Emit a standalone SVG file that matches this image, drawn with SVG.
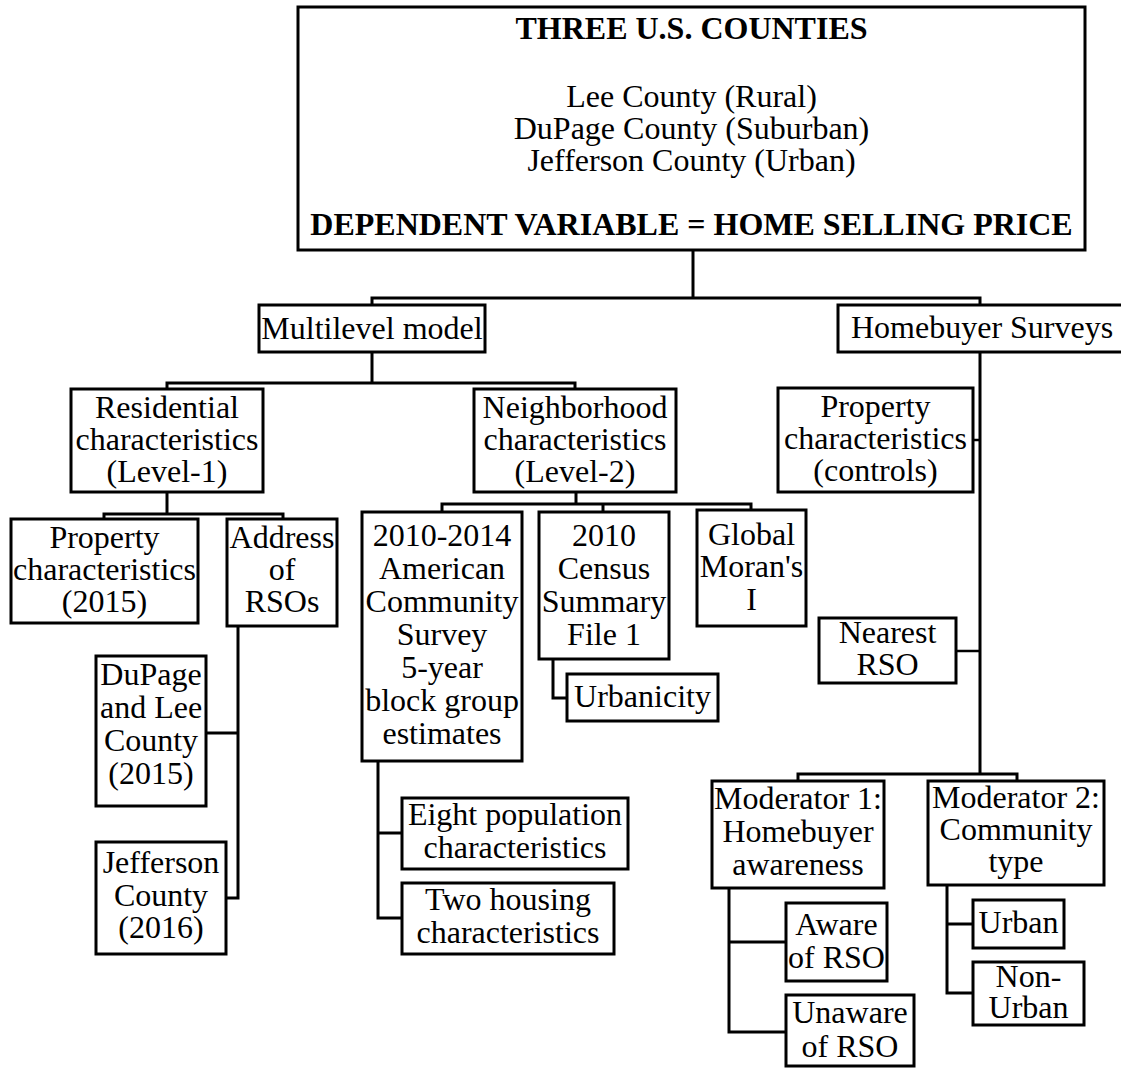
<svg xmlns="http://www.w3.org/2000/svg" width="1121" height="1068" viewBox="0 0 1121 1068">
<style>
.box{fill:#fff;stroke:#000;stroke-width:3}
.c{fill:none;stroke:#000;stroke-width:3}
.t{font-family:"Liberation Serif","Times New Roman",serif;font-size:32px;text-anchor:middle;fill:#000}
.b{font-weight:bold}
</style>
<rect width="1121" height="1068" fill="#fff"/>
<g id="connectors">
<path class="c" d="M693,250 V298"/>
<path class="c" d="M372,305 V298 H980 V305"/>
<path class="c" d="M372,352 V383"/>
<path class="c" d="M167,389 V383 H575 V389"/>
<path class="c" d="M167,492 V514"/>
<path class="c" d="M104,519 V514 H283 V519"/>
<path class="c" d="M238,626 V898 H226"/>
<path class="c" d="M238,733 H206"/>
<path class="c" d="M576,492 V504"/>
<path class="c" d="M442,512 V504 H751 V510"/>
<path class="c" d="M603,504 V512"/>
<path class="c" d="M553,659 V698 H567"/>
<path class="c" d="M378,761 V918 H402"/>
<path class="c" d="M378,833 H402"/>
<path class="c" d="M980,352 V774"/>
<path class="c" d="M973,440 H980" style="stroke-width:2.5"/>
<path class="c" d="M956,651 H980" style="stroke-width:2.5"/>
<path class="c" d="M798,781 V774 H1017 V781"/>
<path class="c" d="M729,888 V1032 H786"/>
<path class="c" d="M729,942 H786"/>
<path class="c" d="M947,885 V993 H973"/>
<path class="c" d="M947,924 H973"/>
</g>
<g id="top">
<rect class="box" x="298" y="7" width="787" height="243"/>
<text class="t"><tspan class="b" x="691.5" y="39">THREE U.S. COUNTIES</tspan><tspan x="691.5" y="107">Lee County (Rural)</tspan><tspan x="691.5" y="139">DuPage County (Suburban)</tspan><tspan x="691.5" y="171">Jefferson County (Urban)</tspan><tspan class="b" x="691.5" y="235">DEPENDENT VARIABLE = HOME SELLING PRICE</tspan></text>
</g>
<g id="multilevel">
<rect class="box" x="259" y="305" width="226" height="47"/>
<text class="t" x="372" y="339">Multilevel model</text>
</g>
<g id="homebuyer">
<rect class="box" x="838" y="305" width="290" height="47"/>
<text class="t" x="851" y="338" style="text-anchor:start">Homebuyer Surveys</text>
</g>
<g id="residential">
<rect class="box" x="71" y="389" width="192" height="103"/>
<text class="t"><tspan x="167" y="418">Residential</tspan><tspan x="167" y="450">characteristics</tspan><tspan x="167" y="482">(Level-1)</tspan></text>
</g>
<g id="neighborhood">
<rect class="box" x="474" y="389" width="202" height="103"/>
<text class="t"><tspan x="575" y="418">Neighborhood</tspan><tspan x="575" y="450">characteristics</tspan><tspan x="575" y="482">(Level-2)</tspan></text>
</g>
<g id="property2015">
<rect class="box" x="11" y="519" width="187" height="104"/>
<text class="t"><tspan x="104.5" y="548">Property</tspan><tspan x="104.5" y="580">characteristics</tspan><tspan x="104.5" y="612">(2015)</tspan></text>
</g>
<g id="address">
<rect class="box" x="227" y="519" width="110" height="107"/>
<text class="t"><tspan x="282" y="548">Address</tspan><tspan x="282" y="580">of</tspan><tspan x="282" y="612">RSOs</tspan></text>
</g>
<g id="dupage">
<rect class="box" x="96" y="656" width="110" height="150"/>
<text class="t"><tspan x="151" y="685">DuPage</tspan><tspan x="151" y="718">and Lee</tspan><tspan x="151" y="751">County</tspan><tspan x="151" y="784">(2015)</tspan></text>
</g>
<g id="jefferson">
<rect class="box" x="96" y="842" width="130" height="112"/>
<text class="t"><tspan x="161" y="873">Jefferson</tspan><tspan x="161" y="906">County</tspan><tspan x="161" y="938">(2016)</tspan></text>
</g>
<g id="acs">
<rect class="box" x="362" y="512" width="160" height="249"/>
<text class="t"><tspan x="442" y="546">2010-2014</tspan><tspan x="442" y="579">American</tspan><tspan x="442" y="612">Community</tspan><tspan x="442" y="645">Survey</tspan><tspan x="442" y="678">5-year</tspan><tspan x="442" y="711">block group</tspan><tspan x="442" y="744">estimates</tspan></text>
</g>
<g id="census">
<rect class="box" x="539" y="512" width="130" height="147"/>
<text class="t"><tspan x="604" y="546">2010</tspan><tspan x="604" y="579">Census</tspan><tspan x="604" y="612">Summary</tspan><tspan x="604" y="645">File 1</tspan></text>
</g>
<g id="moran">
<rect class="box" x="697" y="510" width="109" height="116"/>
<text class="t"><tspan x="751.5" y="545">Global</tspan><tspan x="751.5" y="577">Moran's</tspan><tspan x="751.5" y="610">I</tspan></text>
</g>
<g id="urbanicity">
<rect class="box" x="567" y="674" width="151" height="47"/>
<text class="t" x="642.5" y="707">Urbanicity</text>
</g>
<g id="eight">
<rect class="box" x="402" y="798" width="226" height="71"/>
<text class="t"><tspan x="515" y="825">Eight population</tspan><tspan x="515" y="858">characteristics</tspan></text>
</g>
<g id="two">
<rect class="box" x="402" y="883" width="212" height="71"/>
<text class="t"><tspan x="508" y="910">Two housing</tspan><tspan x="508" y="943">characteristics</tspan></text>
</g>
<g id="controls">
<rect class="box" x="778" y="388" width="195" height="104"/>
<text class="t"><tspan x="875.5" y="417">Property</tspan><tspan x="875.5" y="449">characteristics</tspan><tspan x="875.5" y="481">(controls)</tspan></text>
</g>
<g id="nearest">
<rect class="box" x="819" y="618" width="137" height="65"/>
<text class="t"><tspan x="887.5" y="643">Nearest</tspan><tspan x="887.5" y="675">RSO</tspan></text>
</g>
<g id="mod1">
<rect class="box" x="712" y="781" width="172" height="107"/>
<text class="t"><tspan x="798" y="809">Moderator 1:</tspan><tspan x="798" y="842">Homebuyer</tspan><tspan x="798" y="875">awareness</tspan></text>
</g>
<g id="mod2">
<rect class="box" x="928" y="781" width="176" height="104"/>
<text class="t"><tspan x="1016" y="808">Moderator 2:</tspan><tspan x="1016" y="840">Community</tspan><tspan x="1016" y="872">type</tspan></text>
</g>
<g id="aware">
<rect class="box" x="786" y="903" width="101" height="78"/>
<text class="t"><tspan x="836.5" y="935">Aware</tspan><tspan x="836.5" y="968">of RSO</tspan></text>
</g>
<g id="unaware">
<rect class="box" x="786" y="995" width="128" height="71"/>
<text class="t"><tspan x="850" y="1023">Unaware</tspan><tspan x="850" y="1057">of RSO</tspan></text>
</g>
<g id="urban">
<rect class="box" x="973" y="900" width="91" height="48"/>
<text class="t" x="1018.5" y="933">Urban</text>
</g>
<g id="nonurban">
<rect class="box" x="973" y="962" width="111" height="63"/>
<text class="t"><tspan x="1028.5" y="987">Non-</tspan><tspan x="1028.5" y="1018">Urban</tspan></text>
</g>
</svg>
